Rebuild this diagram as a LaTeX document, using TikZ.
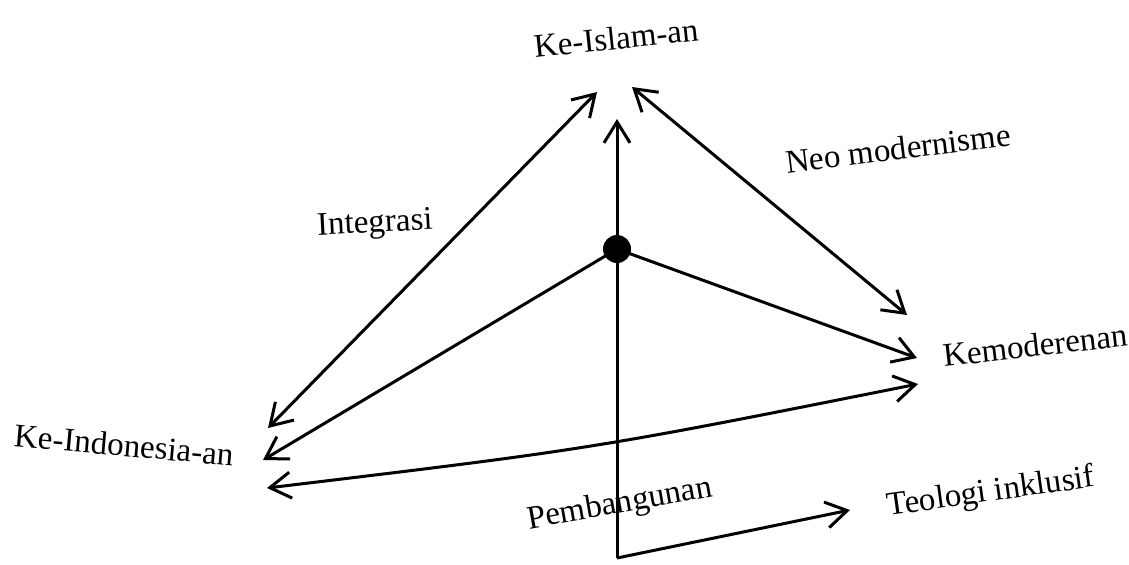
\documentclass[tikz,border=0pt]{standalone}
\usepackage{fontspec}
\setmainfont{Liberation Serif}
\usetikzlibrary{arrows.meta}
\begin{document}
\begin{tikzpicture}[x=0.5pt,y=-0.5pt,
  conn/.style={line width=1.5pt},
  hd/.style={-{Straight Barb[length=10.5pt,width=13pt]}},
  dhd/.style={{Straight Barb[length=10.5pt,width=13pt]}-{Straight Barb[length=10.5pt,width=13pt]}},
  lbl/.style={inner sep=0pt,font=\fontsize{16.5}{20}\selectfont},
  dotstyle/.style={circle,fill=black,inner sep=0pt,minimum size=14pt}]
\useasboundingbox (0,0) rectangle (1129,564);
% labels
\node[lbl,rotate=6] (islam) at (616,38) {Ke-Islam-an};
\node[lbl,rotate=3] (integ) at (375,225) {Integrasi};
\node[lbl,rotate=7] (neo) at (898,148) {Neo modernisme};
\node[lbl,rotate=6.5] (modern) at (1035,345) {Kemoderenan};
\node[lbl,rotate=-5] (indo) at (124,445) {Ke-Indonesia-an};
\node[lbl,rotate=10] (pemb) at (620,505) {Pembangunan};
\node[lbl,rotate=8] (teo) at (991,493) {Teologi inklusif};
% end points
\coordinate (iA) at (597,92);
\coordinate (iB) at (268,428);
\coordinate (nA) at (632,87);
\coordinate (nB) at (907,315);
\coordinate (vTop) at (617,119);
\coordinate (corner) at (617,558);
\coordinate (tTip) at (850,510);
\coordinate (dc) at (617,249);
\coordinate (dL) at (263,460);
\coordinate (dR) at (917,358);
\coordinate (bL) at (267,488);
\coordinate (bR) at (918,384);
% connectors
\draw[conn,dhd] (iA) -- (iB);
\draw[conn,dhd] (nA) -- (nB);
\draw[conn,hd] (corner) -- (vTop);
\draw[conn,hd] (corner) -- (tTip);
\draw[conn,hd] (dc) -- (dL);
\draw[conn,hd] (dc) -- (dR);
\draw[conn,dhd] (bL) .. controls (592,449) .. (bR);
\node[dotstyle] (dot) at (dc) {};
\end{tikzpicture}
\end{document}
